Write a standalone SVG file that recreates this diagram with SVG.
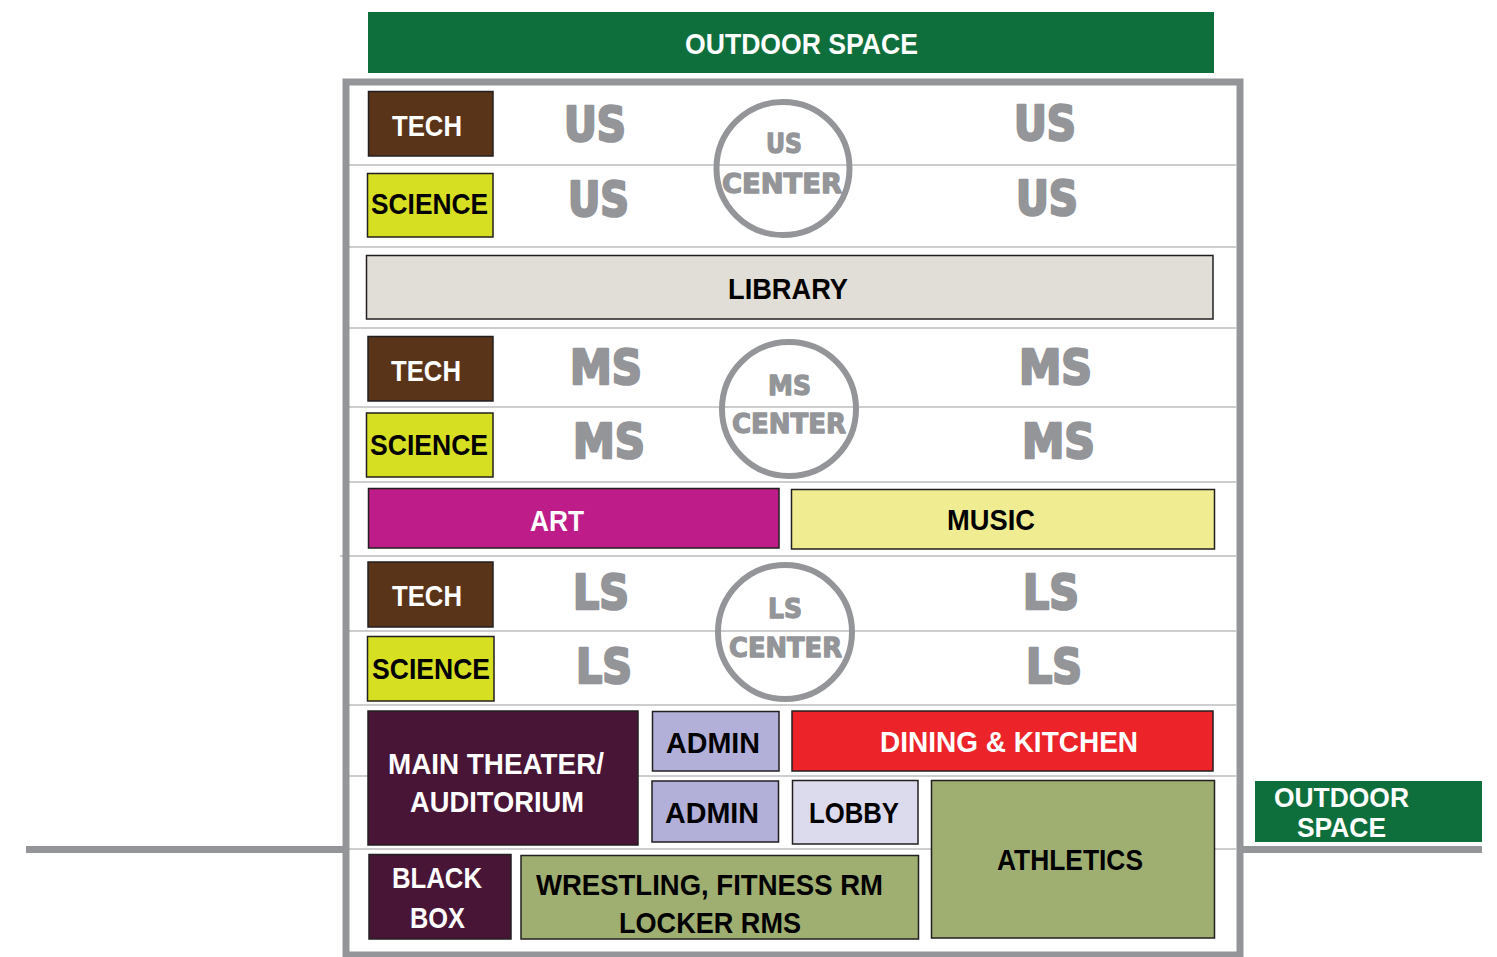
<svg xmlns="http://www.w3.org/2000/svg" width="1497" height="957" viewBox="0 0 1497 957">
<style>
.lbl{font-family:"Liberation Sans",Arial,sans-serif;font-weight:bold;font-size:30px;}
.w{fill:#ffffff;}
.k{fill:#000000;}
.big{font-family:"DejaVu Sans","Liberation Sans",sans-serif;font-weight:bold;font-size:48px;fill:#939598;stroke:#939598;stroke-width:2.6;stroke-linejoin:round;}
.ctr{font-family:"DejaVu Sans","Liberation Sans",sans-serif;font-weight:bold;font-size:27px;fill:#939598;stroke:#939598;stroke-width:1.3;stroke-linejoin:round;}
.box{stroke:#231f20;stroke-width:1.5;}
.div{stroke:#bcbdc0;stroke-width:1.5;fill:none;}
.ring{fill:none;stroke:#939598;stroke-width:6;}
.tech{fill:#5a3419;}
.sci{fill:#d7df23;}
.purple{fill:#481536;}
.admin{fill:#b2b0d8;}
.olive{fill:#9faf71;}
.green{fill:#0e6f3d;}
</style>
<rect width="1497" height="957" fill="#ffffff"/>

<g id="connectors">
  <g id="dividers">
    <line class="div" x1="349" y1="165" x2="1236" y2="165"/>
    <line class="div" x1="349" y1="247" x2="1236" y2="247"/>
    <line class="div" x1="349" y1="328" x2="1236" y2="328"/>
    <line class="div" x1="349" y1="407" x2="1236" y2="407"/>
    <line class="div" x1="349" y1="482" x2="1236" y2="482"/>
    <line class="div" x1="340" y1="556" x2="1236" y2="556"/>
    <line class="div" x1="349" y1="631" x2="1236" y2="631"/>
    <line class="div" x1="349" y1="705" x2="1236" y2="705"/>
    <line class="div" x1="349" y1="776" x2="1236" y2="776"/>
    <line class="div" x1="349" y1="849" x2="1236" y2="849"/>
  </g>
  <rect id="frame" x="346" y="82" width="894" height="873" fill="none" stroke="#939598" stroke-width="7"/>
  <line x1="26" y1="849.5" x2="343" y2="849.5" stroke="#939598" stroke-width="7"/>
  <line x1="1243" y1="849.5" x2="1482" y2="849.5" stroke="#939598" stroke-width="7"/>
</g>

<g id="outdoor-top">
  <rect class="green" x="368" y="12" width="846" height="61"/>
  <text class="lbl w" x="685" y="54" textLength="233" lengthAdjust="spacingAndGlyphs">OUTDOOR SPACE</text>
</g>

<g id="us-tech">
  <rect class="box tech" x="368.5" y="91.5" width="124.5" height="64.5"/>
  <text class="lbl w" x="392" y="136" textLength="70" lengthAdjust="spacingAndGlyphs">TECH</text>
</g>
<g id="us-science">
  <rect class="box sci" x="367.5" y="173.5" width="125.5" height="63.5"/>
  <text class="lbl k" x="371" y="214" textLength="117" lengthAdjust="spacingAndGlyphs">SCIENCE</text>
</g>
<g id="us-labels">
  <text class="big" x="564" y="141" textLength="62" lengthAdjust="spacingAndGlyphs">US</text>
  <text class="big" x="568" y="216" textLength="61" lengthAdjust="spacingAndGlyphs">US</text>
  <text class="big" x="1014" y="140" textLength="62" lengthAdjust="spacingAndGlyphs">US</text>
  <text class="big" x="1016" y="215" textLength="62" lengthAdjust="spacingAndGlyphs">US</text>
</g>
<g id="us-center">
  <circle class="ring" cx="783" cy="168.5" r="66.5"/>
  <text class="ctr" x="766" y="153" textLength="36" lengthAdjust="spacingAndGlyphs">US</text>
  <text class="ctr" x="722" y="193" textLength="120" lengthAdjust="spacingAndGlyphs">CENTER</text>
</g>

<g id="library">
  <rect class="box" x="366.5" y="255.5" width="846.5" height="63.5" fill="#e0ded6"/>
  <text class="lbl k" x="728" y="299" textLength="120" lengthAdjust="spacingAndGlyphs">LIBRARY</text>
</g>

<g id="ms-tech">
  <rect class="box tech" x="368" y="336.5" width="125" height="64.5"/>
  <text class="lbl w" x="391" y="381" textLength="70" lengthAdjust="spacingAndGlyphs">TECH</text>
</g>
<g id="ms-science">
  <rect class="box sci" x="366.5" y="413" width="126.5" height="64"/>
  <text class="lbl k" x="370" y="455" textLength="118" lengthAdjust="spacingAndGlyphs">SCIENCE</text>
</g>
<g id="ms-labels">
  <text class="big" x="570" y="384" textLength="72" lengthAdjust="spacingAndGlyphs">MS</text>
  <text class="big" x="573" y="458" textLength="72" lengthAdjust="spacingAndGlyphs">MS</text>
  <text class="big" x="1019" y="384" textLength="73" lengthAdjust="spacingAndGlyphs">MS</text>
  <text class="big" x="1022" y="458" textLength="73" lengthAdjust="spacingAndGlyphs">MS</text>
</g>
<g id="ms-center">
  <circle class="ring" cx="789" cy="409" r="67"/>
  <text class="ctr" x="768" y="395" textLength="43" lengthAdjust="spacingAndGlyphs">MS</text>
  <text class="ctr" x="732" y="433" textLength="114" lengthAdjust="spacingAndGlyphs">CENTER</text>
</g>

<g id="art">
  <rect class="box" x="368.5" y="488.5" width="410.5" height="59.5" fill="#bd1c89"/>
  <text class="lbl w" x="530" y="531" textLength="54" lengthAdjust="spacingAndGlyphs">ART</text>
</g>
<g id="music">
  <rect class="box" x="791.5" y="489.5" width="423" height="59.5" fill="#f0ec91"/>
  <text class="lbl k" x="947" y="530" textLength="88" lengthAdjust="spacingAndGlyphs">MUSIC</text>
</g>

<g id="ls-tech">
  <rect class="box tech" x="368" y="562" width="125" height="65"/>
  <text class="lbl w" x="392" y="606" textLength="70" lengthAdjust="spacingAndGlyphs">TECH</text>
</g>
<g id="ls-science">
  <rect class="box sci" x="367.5" y="636.5" width="126.5" height="64.5"/>
  <text class="lbl k" x="372" y="679" textLength="118" lengthAdjust="spacingAndGlyphs">SCIENCE</text>
</g>
<g id="ls-labels">
  <text class="big" x="573" y="609" textLength="56" lengthAdjust="spacingAndGlyphs">LS</text>
  <text class="big" x="576" y="683" textLength="56" lengthAdjust="spacingAndGlyphs">LS</text>
  <text class="big" x="1023" y="609" textLength="56" lengthAdjust="spacingAndGlyphs">LS</text>
  <text class="big" x="1026" y="683" textLength="56" lengthAdjust="spacingAndGlyphs">LS</text>
</g>
<g id="ls-center">
  <circle class="ring" cx="785" cy="632" r="67"/>
  <text class="ctr" x="768" y="618" textLength="34" lengthAdjust="spacingAndGlyphs">LS</text>
  <text class="ctr" x="729" y="657" textLength="113" lengthAdjust="spacingAndGlyphs">CENTER</text>
</g>

<g id="main-theater">
  <rect class="box purple" x="368" y="711" width="270" height="134"/>
  <text class="lbl w" x="388" y="774" textLength="216" lengthAdjust="spacingAndGlyphs">MAIN THEATER/</text>
  <text class="lbl w" x="410" y="812" textLength="174" lengthAdjust="spacingAndGlyphs">AUDITORIUM</text>
</g>
<g id="admin-1">
  <rect class="box admin" x="652.5" y="711.5" width="126.5" height="59.5"/>
  <text class="lbl k" x="666" y="753" textLength="94" lengthAdjust="spacingAndGlyphs">ADMIN</text>
</g>
<g id="admin-2">
  <rect class="box admin" x="652" y="781" width="126.5" height="61"/>
  <text class="lbl k" x="665" y="823" textLength="94" lengthAdjust="spacingAndGlyphs">ADMIN</text>
</g>
<g id="dining">
  <rect class="box" x="792" y="711" width="421" height="60" fill="#ec2329"/>
  <text class="lbl w" x="880" y="752" textLength="258" lengthAdjust="spacingAndGlyphs">DINING &amp; KITCHEN</text>
</g>
<g id="lobby">
  <rect class="box" x="792.5" y="780.5" width="125.5" height="63.5" fill="#dcdbee"/>
  <text class="lbl k" x="809" y="823" textLength="90" lengthAdjust="spacingAndGlyphs">LOBBY</text>
</g>
<g id="athletics">
  <rect class="box olive" x="931.5" y="780.5" width="283" height="157.5"/>
  <text class="lbl k" x="997" y="870" textLength="146" lengthAdjust="spacingAndGlyphs">ATHLETICS</text>
</g>
<g id="black-box">
  <rect class="box purple" x="369" y="854.5" width="142" height="84.5"/>
  <text class="lbl w" x="392" y="888" textLength="90" lengthAdjust="spacingAndGlyphs">BLACK</text>
  <text class="lbl w" x="410" y="928" textLength="55" lengthAdjust="spacingAndGlyphs">BOX</text>
</g>
<g id="wrestling">
  <rect class="box olive" x="521" y="855.5" width="397.5" height="83.5"/>
  <text class="lbl k" x="536" y="895" textLength="347" lengthAdjust="spacingAndGlyphs">WRESTLING, FITNESS RM</text>
  <text class="lbl k" x="619" y="933" textLength="182" lengthAdjust="spacingAndGlyphs">LOCKER RMS</text>
</g>

<g id="outdoor-right">
  <rect class="green" x="1255" y="781" width="227" height="61"/>
  <text class="lbl w" x="1274" y="807" textLength="135" lengthAdjust="spacingAndGlyphs" style="font-size:28px">OUTDOOR</text>
  <text class="lbl w" x="1297" y="837" textLength="89" lengthAdjust="spacingAndGlyphs" style="font-size:27px">SPACE</text>
</g>
</svg>
